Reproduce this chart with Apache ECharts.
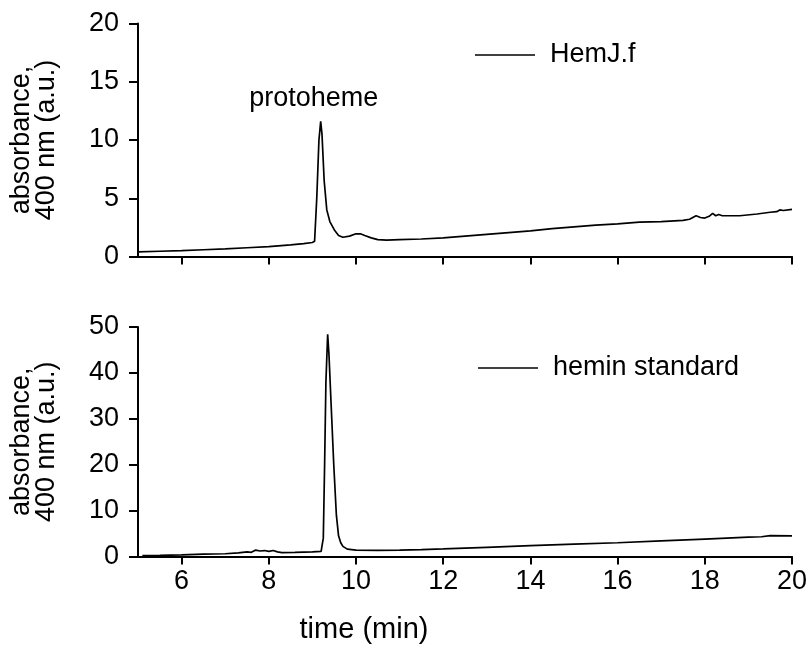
<!DOCTYPE html>
<html>
<head>
<meta charset="utf-8">
<script src="https://cdn.jsdelivr.net/npm/echarts@6/dist/echarts.min.js"></script>
<style>html,body{margin:0;padding:0;background:#fff;}#c{width:809px;height:660px;}</style>
</head>
<body>
<div id="c"></div>
<script>
// ---- data ----
const timeTop = [5.0,5.5,6.0,6.5,7.0,7.5,8.0,8.5,8.8,9.0,9.05,9.1,9.15,9.19,9.22,9.27,9.33,9.4,9.5,9.6,9.7,9.85,10.0,10.1,10.2,10.35,10.5,10.7,11.0,11.5,12.0,12.5,13.0,13.5,14.0,14.5,15.0,15.5,16.0,16.5,17.0,17.5,17.65,17.8,17.9,18.0,18.1,18.18,18.25,18.32,18.4,18.8,19.2,19.5,19.65,19.72,19.8,20.0];
const absTop  = [0.4,0.45,0.5,0.58,0.65,0.75,0.85,1.0,1.1,1.2,1.3,5.0,10.0,11.6,10.5,6.5,4.0,3.0,2.3,1.8,1.65,1.75,1.95,1.95,1.8,1.6,1.45,1.4,1.45,1.5,1.6,1.75,1.9,2.05,2.2,2.4,2.55,2.7,2.8,2.95,3.0,3.1,3.2,3.5,3.35,3.3,3.45,3.7,3.5,3.6,3.5,3.5,3.65,3.8,3.85,4.0,3.95,4.05];
const timeBot = [5.1,5.5,6.0,6.5,7.0,7.3,7.5,7.6,7.7,7.8,7.9,8.0,8.1,8.2,8.3,8.6,9.0,9.2,9.25,9.28,9.31,9.35,9.38,9.43,9.49,9.55,9.6,9.65,9.7,9.8,10.0,10.5,11.0,11.5,12.0,13.0,14.0,15.0,16.0,17.0,18.0,18.5,19.0,19.3,19.5,20.0];
const absBot  = [0.2,0.25,0.35,0.5,0.6,0.8,1.0,0.9,1.4,1.2,1.3,1.1,1.3,1.0,0.85,0.9,1.0,1.1,4.0,20,38,48.4,44,33,20,9,4.5,3.0,2.2,1.6,1.4,1.35,1.4,1.5,1.65,2.0,2.35,2.7,3.0,3.4,3.8,4.0,4.2,4.3,4.55,4.5];
const xTicks = [6,8,10,12,14,16,18,20];
const seriesNames = ['HemJ.f','hemin standard'];
const yTitle = 'absorbance,\n400 nm (a.u.)';
const xTitle = 'time (min)';
const peakLabel = 'protoheme';

const FONT = "'Liberation Sans',Arial,sans-serif";
const zip = (a,b) => a.map((v,i)=>[v,b[i]]);

const chart = echarts.init(document.getElementById('c'), null, {renderer:'canvas'});
const axisLine = {show:true, lineStyle:{color:'#000', width:2}};
const tickStyle = {color:'#000', width:2};

function xAxis(gi, labels){
  return {
    type:'value', gridIndex:gi, min:5, max:20,
    axisLine: axisLine,
    axisTick: {show:true, inside:false, length:8, lineStyle:tickStyle, customValues:xTicks},
    axisLabel: {show:labels, customValues:xTicks, color:'#000', fontSize:27, fontFamily:FONT, margin:12},
    splitLine:{show:false}
  };
}
function yAxis(gi, max, interval){
  return {
    type:'value', gridIndex:gi, min:0, max:max, interval:interval,
    axisLine: axisLine,
    axisTick: {show:true, inside:false, length:9, lineStyle:tickStyle},
    axisLabel: {color:'#000', fontSize:27, fontFamily:FONT, margin:19},
    splitLine:{show:false},
    name: yTitle, nameLocation:'middle', nameRotate:90, nameGap:79,
    nameTextStyle:{color:'#000', fontSize:27, fontFamily:FONT, lineHeight:25}
  };
}

chart.setOption({
  animation:false,
  backgroundColor:'#fff',
  grid:[
    {left:138, width:654, top:23.5, height:233, outerBoundsMode:'none', containLabel:false},
    {left:138, width:654, top:327, height:229.5, outerBoundsMode:'none', containLabel:false}
  ],
  xAxis:[xAxis(0,false), xAxis(1,true)],
  yAxis:[yAxis(0,20,5), yAxis(1,50,10)],
  legend:[
    {data:[seriesNames[0]], left:475, top:41.5, padding:0, itemWidth:60, itemHeight:14, icon:'path://M0,6.5H60V8H0Z',
     itemStyle:{color:'#000'}, textStyle:{color:'#000', fontSize:27, fontFamily:FONT, padding:[0,0,0,10]}},
    {data:[seriesNames[1]], left:478, top:354.5, padding:0, itemWidth:60, itemHeight:14, icon:'path://M0,6.5H60V8H0Z',
     itemStyle:{color:'#000'}, textStyle:{color:'#000', fontSize:27, fontFamily:FONT, padding:[0,0,0,10]}}
  ],
  graphic:[
    {type:'text', x:364, y:630, style:{text:xTitle, fontSize:29, fontFamily:FONT, fill:'#000', align:'center', verticalAlign:'middle'}}
  ],
  series:[
    {name:seriesNames[0], type:'line', xAxisIndex:0, yAxisIndex:0, data:zip(timeTop,absTop),
     symbol:'none', showSymbol:false, lineStyle:{color:'#000', width:1.7}, itemStyle:{color:'#000'},
     markPoint:{symbol:'circle', symbolSize:0, silent:true,
       data:[{coord:[timeTop[absTop.indexOf(Math.max(...absTop))], Math.max(...absTop)],
         label:{show:true, formatter:peakLabel, position:'inside', offset:[-7,-23], color:'#000', fontSize:27, fontFamily:FONT}}]}},
    {name:seriesNames[1], type:'line', xAxisIndex:1, yAxisIndex:1, data:zip(timeBot,absBot),
     symbol:'none', showSymbol:false, lineStyle:{color:'#000', width:1.7}, itemStyle:{color:'#000'}}
  ]
});
</script>
</body>
</html>
